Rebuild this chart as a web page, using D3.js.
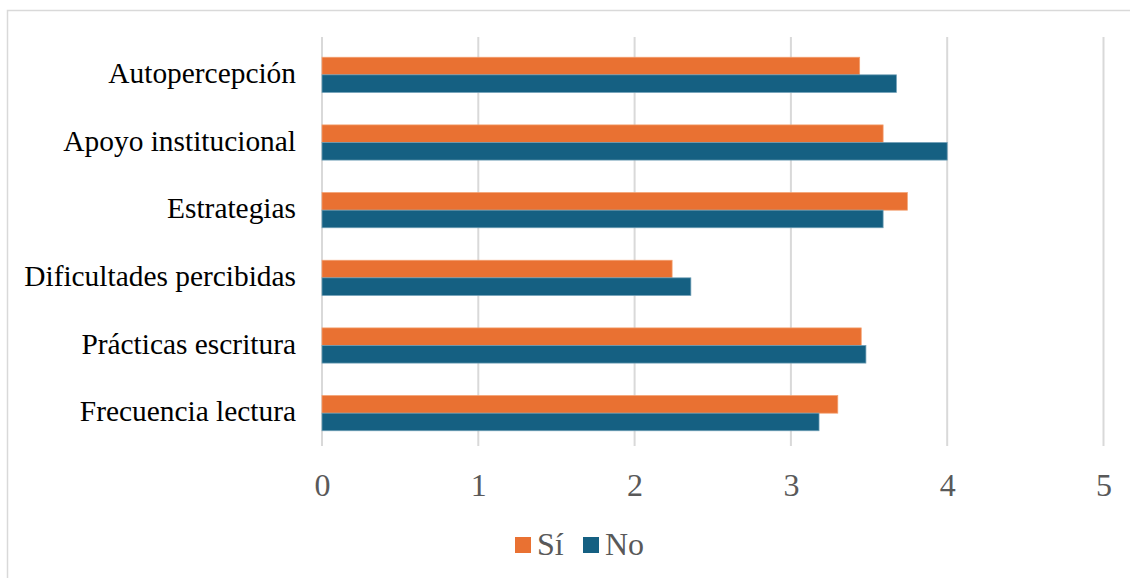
<!DOCTYPE html>
<html><head><meta charset="utf-8">
<script src="https://cdn.jsdelivr.net/npm/d3@7"></script>
<style>html,body{margin:0;padding:0;background:#fff;}svg{display:block;}
svg text{font-family:"Liberation Serif","Times New Roman",serif;}</style>
</head><body>
<svg id="c" width="1130" height="578"></svg>
<script>
const categories = ["Autopercepción","Apoyo institucional","Estrategias","Dificultades percibidas","Prácticas escritura","Frecuencia lectura"];
const seriesNames = ["Sí","No"];
const valuesSi = [3.44,3.59,3.745,2.24,3.45,3.30];
const valuesNo = [3.675,4.0,3.59,2.36,3.48,3.18];
const ticks = [0,1,2,3,4,5];
const colors = ["#E97132","#156082"];

const svg = d3.select("#c");
const font = '"Liberation Serif","Times New Roman",serif';
svg.append("rect").attr("x",7.5).attr("y",10.5).attr("width",1140).attr("height",600)
  .attr("fill","#fff").attr("stroke","#d9d9d9").attr("stroke-width",1.5);

const x = d3.scaleLinear().domain([0,5]).range([322,1103.5]);
const y = d3.scaleBand().domain(categories).range([41,447]).paddingInner(0.48).paddingOuter(0.24);
const ySub = d3.scaleBand().domain(seriesNames).range([0,y.bandwidth()]);

const grid = svg.append("g");
grid.selectAll("line").data(ticks).join("line")
  .attr("x1",d=>x(d)).attr("x2",d=>x(d)).attr("y1",37).attr("y2",446)
  .attr("stroke","#d9d9d9").attr("stroke-width",2);

const data = categories.map((c,i)=>({c, vals:[valuesSi[i],valuesNo[i]]}));
const groups = svg.append("g").selectAll("g").data(data).join("g")
  .attr("transform",d=>`translate(0,${y(d.c)})`);
groups.selectAll("rect").data(d=>d.vals.map((v,j)=>({v,s:seriesNames[j],j}))).join("rect")
  .attr("x",x(0)).attr("y",d=>ySub(d.s)).attr("width",d=>x(d.v)-x(0)).attr("height",ySub.bandwidth())
  .attr("fill",d=>colors[d.j]).attr("stroke",d=>d.j===0?"#f3a070":"#6f9fb6").attr("stroke-width",0.75);

// x axis labels
const xAxis = d3.axisBottom(x).tickValues(ticks).tickFormat(d3.format("d")).tickSize(0).tickPadding(0);
const gx = svg.append("g").attr("transform","translate(0,496)").call(xAxis).attr("font-family",null);
gx.select(".domain").remove();
gx.selectAll("text").style("font-family",font).style("font-size","32px").attr("fill","#595959").attr("dy","0").attr("y",0);

// y axis labels
const yAxis = d3.axisLeft(y).tickSize(0).tickPadding(26);
const gy = svg.append("g").attr("transform",`translate(${x(0)},0)`).call(yAxis).attr("font-family",null);
gy.select(".domain").remove();
gy.selectAll("text").style("font-family",font).style("font-size","29.4px").attr("fill","#000").attr("dy","0.28em");

// legend
const legend = svg.append("g").attr("transform","translate(515,545)");
const items = [{n:"Sí",c:colors[0],x:0},{n:"No",c:colors[1],x:68}];
const li = legend.selectAll("g").data(items).join("g").attr("transform",d=>`translate(${d.x},0)`);
li.append("rect").attr("x",0).attr("y",-8).attr("width",16).attr("height",16).attr("fill",d=>d.c);
li.append("text").attr("x",22).attr("y",0).attr("dy","0.32em").text(d=>d.n)
  .style("font-family",font).style("font-size","32px").attr("fill","#595959");
</script>
</body></html>
